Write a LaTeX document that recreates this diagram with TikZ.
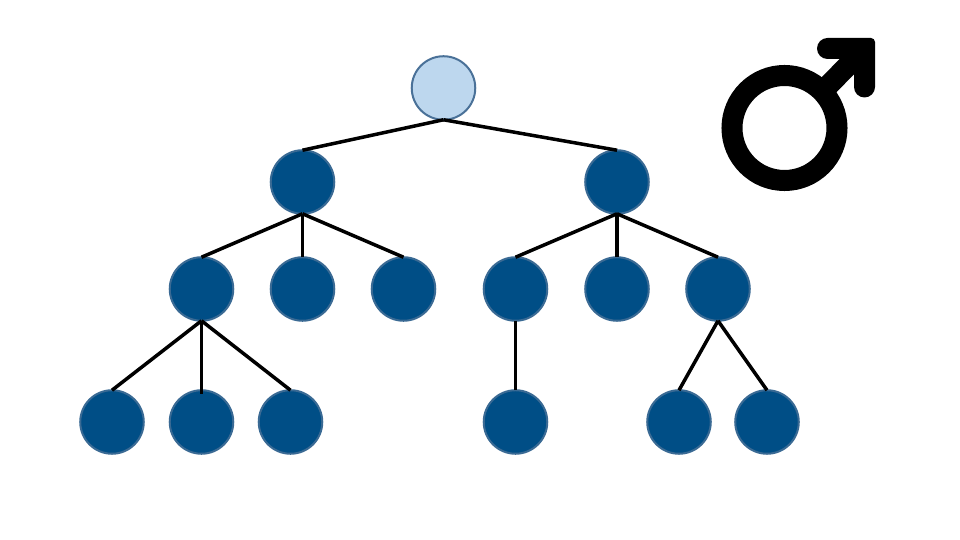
\documentclass[tikz,border=0pt]{standalone}
\usepackage{tikz}

\definecolor{rootblue}{HTML}{BDD7EE}
\definecolor{rootedge}{HTML}{4A7198}
\definecolor{kinblue}{HTML}{004E86}
\definecolor{kinedge}{HTML}{3A6A94}

\begin{document}
\begin{tikzpicture}[
    x=0.01cm, y=-0.01cm,
    root/.style={circle, fill=rootblue, draw=rootedge, line width=0.02cm, inner sep=0pt, outer sep=0pt, minimum size=0.635cm}, % Style for the top circle
    kin/.style={circle, fill=kinblue, draw=kinedge, line width=0.02cm, inner sep=0pt, outer sep=0pt, minimum size=0.635cm}, % Style for the other circles
    edge/.style={black, line width=0.035cm}, % Style for the tree lines
    sign/.style={black, line width=0.21cm} % Style for the symbol strokes
]

\useasboundingbox (0, 0) rectangle (960, 540);

% Top circle
\node[root] (top) at (443.5, 88) {};

% Second row
\node[kin] (left) at (302.5, 182) {};
\node[kin] (right) at (617, 182) {};

% Third row
\node[kin] (la) at (201.5, 289) {};
\node[kin] (lb) at (302.5, 289) {};
\node[kin] (lc) at (403.5, 289) {};
\node[kin] (ra) at (515.5, 289) {};
\node[kin] (rb) at (617, 289) {};
\node[kin] (rc) at (718, 289) {};

% Fourth row
\node[kin] (laa) at (112, 422) {};
\node[kin] (lab) at (201.5, 422) {};
\node[kin] (lac) at (290.5, 422) {};
\node[kin] (raa) at (515.5, 422) {};
\node[kin] (rca) at (679, 422) {};
\node[kin] (rcb) at (767, 422) {};

% Tree lines
\draw[edge] (top.south) -- (left.north);
\draw[edge] (top.south) -- (right.north);

\draw[edge] (left.south) -- (la.north);
\draw[edge] (left.south) -- (lb.north);
\draw[edge] (left.south) -- (lc.north);

\draw[edge] (right.south) -- (ra.north);
\draw[edge] (right.south) -- (rb.north);
\draw[edge] (right.south) -- (rc.north);

\draw[edge] (la.south) -- (laa.north);
\draw[edge, shorten >=-0.04cm] (la.south) -- (lab.north);
\draw[edge] (la.south) -- (lac.north);

\draw[edge] (ra.south) -- (raa.north);
\draw[edge] (rc.south) -- (rca.north);
\draw[edge] (rc.south) -- (rcb.north);

% Symbol at the upper right
\draw[sign] (784.5, 128) circle [radius=52.5];
\draw[sign] (823, 91) -- (864, 49);
\fill[black] (827.5, 38) [rounded corners=0.04cm] -- (875, 38) -- (875, 60) [sharp corners] -- (875, 87)
    arc [start angle=0, end angle=180, radius=10.5] -- (854, 59) -- (827.5, 59)
    arc [start angle=90, end angle=270, radius=10.5] -- cycle;

\end{tikzpicture}
\end{document}
